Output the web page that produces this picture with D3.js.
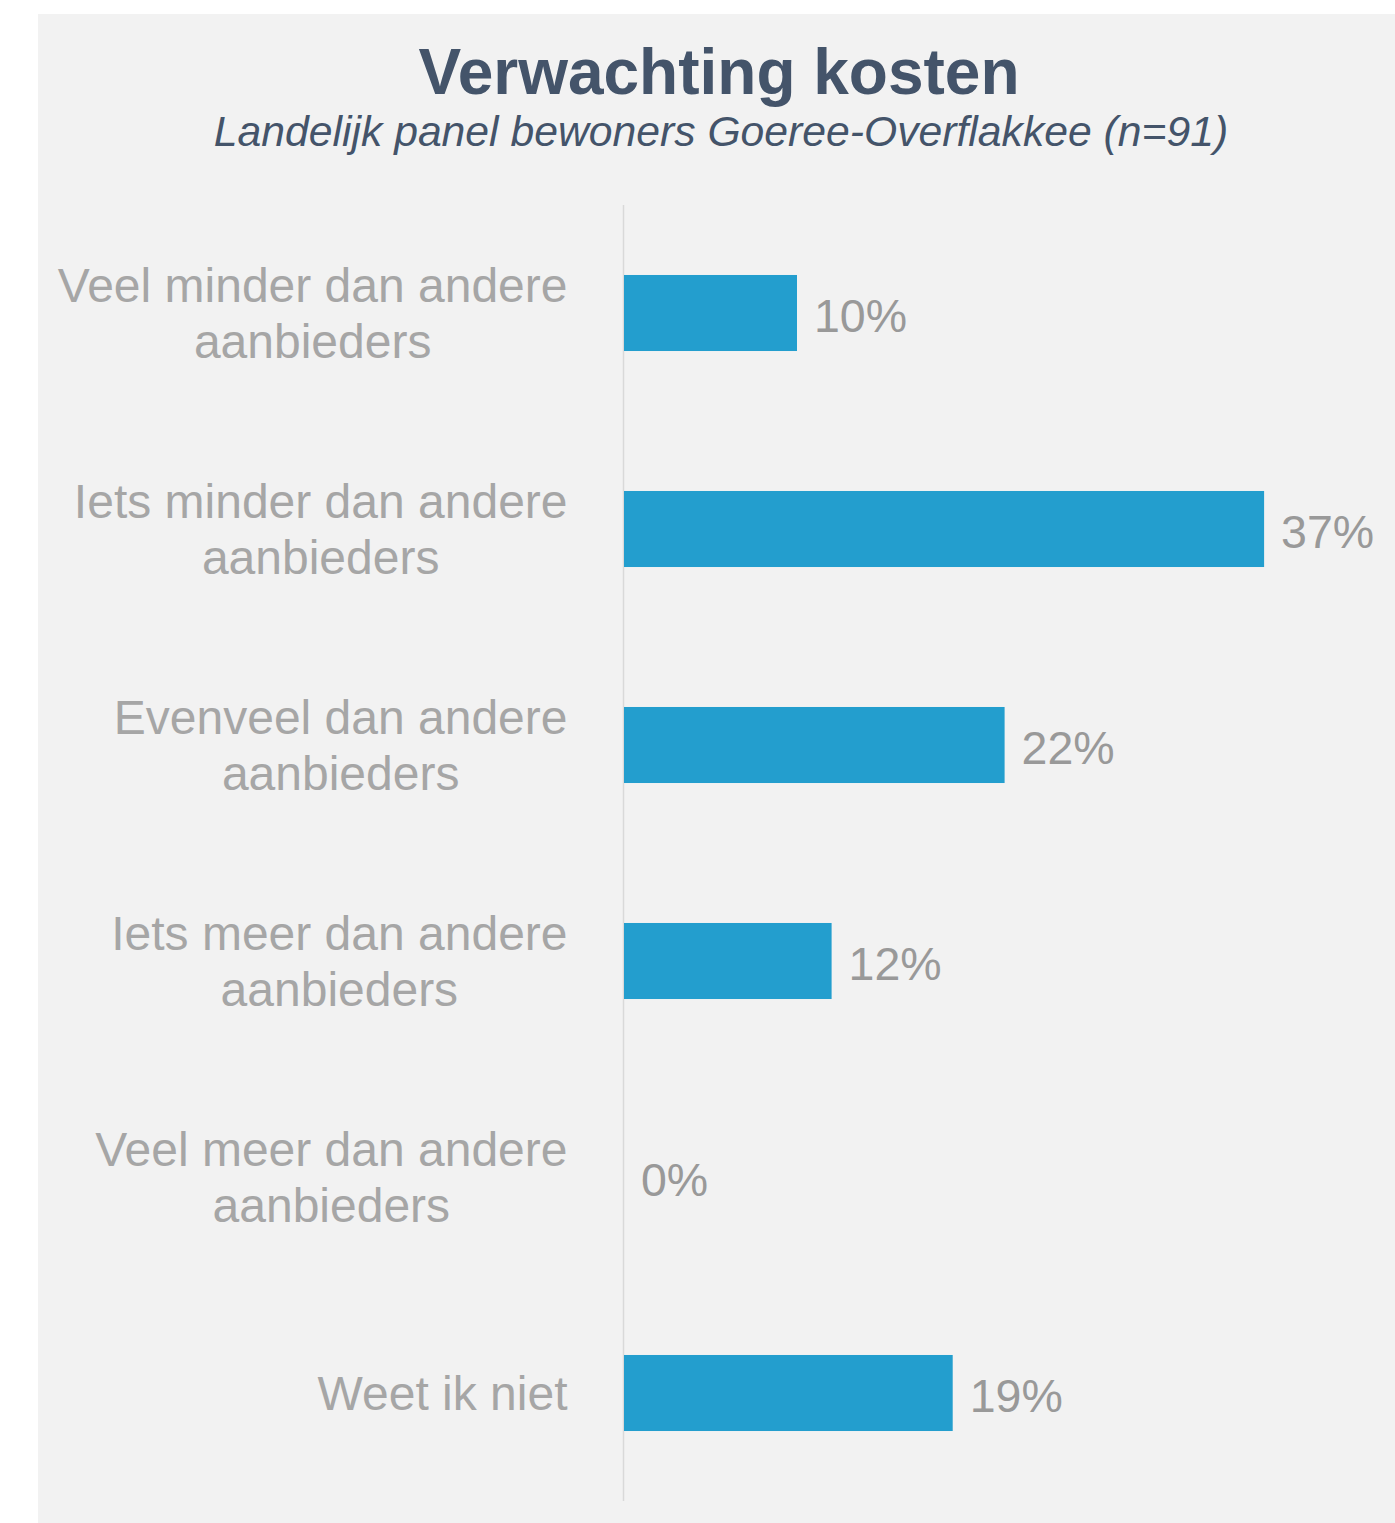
<!DOCTYPE html>
<html>
<head>
<meta charset="utf-8">
<script src="https://cdn.jsdelivr.net/npm/d3@7"></script>
<style>
  html, body { margin: 0; padding: 0; background: #ffffff; }
  svg { display: block; }
</style>
</head>
<body>
<svg id="chart" width="1395" height="1523"></svg>
<script>
// Answer categories, each split into the lines shown beside its bar
const categories = [
  ["Veel minder dan andere", "aanbieders"],
  ["Iets minder dan andere", "aanbieders"],
  ["Evenveel dan andere", "aanbieders"],
  ["Iets meer dan andere", "aanbieders"],
  ["Veel meer dan andere", "aanbieders"],
  ["Weet ik niet"]
];
// Share of respondents per category (%)
const values = [10, 37, 22, 12, 0, 19];

const titleText = "Verwachting kosten";
const subtitleText = "Landelijk panel bewoners Goeree-Overflakkee (n=91)";

const svg = d3.select("#chart");
const W = 1395, H = 1523;

// Panel background
svg.append("rect")
  .attr("x", 38).attr("y", 14)
  .attr("width", W - 38).attr("height", H - 14)
  .attr("fill", "#f2f2f2");

// Title and subtitle
svg.append("text")
  .attr("x", 719).attr("y", 94)
  .attr("text-anchor", "middle")
  .attr("font-family", "Liberation Sans, Arial, sans-serif")
  .attr("font-weight", "bold")
  .attr("font-size", 64)
  .attr("fill", "#44546a")
  .text(titleText);

svg.append("text")
  .attr("x", 721).attr("y", 146)
  .attr("text-anchor", "middle")
  .attr("font-family", "Liberation Sans, Arial, sans-serif")
  .attr("font-style", "italic")
  .attr("font-size", 42.7)
  .attr("fill", "#44546a")
  .text(subtitleText);

// Scales
const keys = categories.map(c => c.join(" "));
const y = d3.scaleBand()
  .domain(keys)
  .range([205, 1501])
  .paddingInner(0.648)
  .paddingOuter(0.324);

const x0 = 624;
const x = d3.scaleLinear()
  .domain([0, 40])
  .range([x0, x0 + 40 * 17.3]);

const data = keys.map((k, i) => ({ key: k, lines: categories[i], value: values[i] }));

// Vertical category axis line
svg.append("line")
  .attr("x1", x0 - 0.5).attr("x2", x0 - 0.5)
  .attr("y1", 205).attr("y2", 1501)
  .attr("stroke", "#d9d9d9")
  .attr("stroke-width", 1.5);

// Bars
svg.append("g").selectAll("rect")
  .data(data)
  .join("rect")
  .attr("x", x(0))
  .attr("y", d => y(d.key))
  .attr("width", d => x(d.value) - x(0))
  .attr("height", y.bandwidth())
  .attr("fill", "#239ece");

// Value labels
svg.append("g").selectAll("text")
  .data(data)
  .join("text")
  .attr("x", d => x(d.value) + 17)
  .attr("y", d => y(d.key) + y.bandwidth() / 2 + 3)
  .attr("dominant-baseline", "central")
  .attr("font-family", "Liberation Sans, Arial, sans-serif")
  .attr("font-size", 46.5)
  .attr("fill", "#999999")
  .text(d => d.value + "%");

// Category labels: lines centred on each other, block right-aligned to x=567
const lineH = 56;
const catFont = 48;
const labels = svg.append("g")
  .attr("font-family", "Liberation Sans, Arial, sans-serif")
  .attr("font-size", catFont)
  .attr("fill", "#a6a6a6");

data.forEach(d => {
  const cy = y(d.key) + y.bandwidth() / 2;
  const g = labels.append("g");
  const n = d.lines.length;
  const texts = d.lines.map((ln, j) =>
    g.append("text")
      .attr("y", cy + (j - (n - 1) / 2) * lineH)
      .attr("dominant-baseline", "central")
      .attr("text-anchor", "middle")
      .text(ln)
  );
  const widest = d3.max(texts, t => t.node().getComputedTextLength());
  const cx = 567.5 - widest / 2;
  texts.forEach(t => t.attr("x", cx));
});
</script>
</body>
</html>
